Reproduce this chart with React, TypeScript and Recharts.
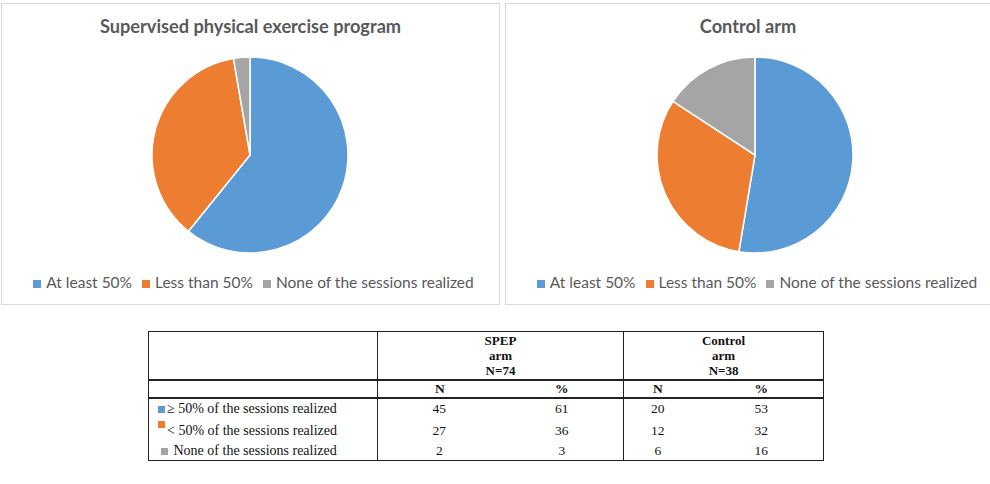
import React from 'react';
import { PieChart, Pie, Cell, Legend } from 'recharts';

const categories = ['At least 50%', 'Less than 50%', 'None of the sessions realized'];
const spepCounts = [45, 27, 2];
const controlCounts = [20, 12, 6];
const spepPct = [61, 36, 3];
const controlPct = [53, 32, 16];
const rowLabels = ['≥ 50% of the sessions realized', '< 50% of the sessions realized', 'None of the sessions realized'];
const colors = ['#5b9bd5', '#ed7d31', '#a5a5a5'];

const spepData = categories.map((name, i) => ({ name, value: spepCounts[i] }));
const controlData = categories.map((name, i) => ({ name, value: controlCounts[i] }));

const textGray = '#595959';

const PiePanel: React.FC<{ title: string; data: { name: string; value: number }[]; left: number; width: number; cx: number; legendLeft: number }> = ({ title, data, left, width, cx, legendLeft }) => (
  <div style={{ position: 'absolute', left, top: 3, width, height: 302, border: '1px solid #d9d9d9', boxSizing: 'border-box', background: '#fff' }}>
    <div style={{ position: 'absolute', top: 11, left: 0, width: '100%', textAlign: 'center', fontFamily: 'Lato', fontWeight: 700, fontSize: 18.2, color: textGray }}>
      {title}
    </div>
    <PieChart width={width - 2} height={300}>
      <Pie
        data={data}
        dataKey="value"
        nameKey="name"
        cx={cx}
        cy={146}
        outerRadius={98}
        startAngle={90}
        endAngle={-270}
        stroke="#fff"
        strokeWidth={1.5}
        isAnimationActive={false}
      >
        {data.map((d, i) => <Cell key={d.name} fill={colors[i]} />)}
      </Pie>
      <Legend
        iconType="square"
        iconSize={8}
        verticalAlign="bottom"
        wrapperStyle={{ bottom: 13, left: legendLeft, fontFamily: 'Lato', fontSize: 15.5 }}
        formatter={(value: string) => <span style={{ color: textGray, marginLeft: 1 }}>{value}</span>}
      />
    </PieChart>
  </div>
);

const bd = '1px solid #222';
const thick = '2px solid #222';

const Sq: React.FC<{ c: string; top?: number }> = ({ c, top = 0 }) => (
  <span style={{ display: 'inline-block', width: 7, height: 7, background: c, marginRight: 2, position: 'relative', top }} />
);

const App: React.FC = () => {
  const cell: React.CSSProperties = { padding: 0, textAlign: 'center' };
  return (
    <div style={{ position: 'absolute', left: 0, top: 0, width: 990, height: 484, background: '#fff', overflow: 'hidden' }}>
      <PiePanel title="Supervised physical exercise program" data={spepData} left={1} width={499} cx={243} legendLeft={13} />
      <PiePanel title="Control arm" data={controlData} left={505} width={486} cx={244} legendLeft={19} />
      <table
        style={{
          position: 'absolute', left: 148, top: 331, width: 675, borderCollapse: 'collapse', tableLayout: 'fixed',
          fontFamily: '"Liberation Serif", "Times New Roman", serif', fontSize: 13.5, color: '#111', border: bd,
        }}
      >
        <colgroup>
          <col style={{ width: 229 }} />
          <col style={{ width: 123 }} />
          <col style={{ width: 123 }} />
          <col style={{ width: 68 }} />
          <col style={{ width: 132 }} />
        </colgroup>
        <tbody>
          <tr style={{ height: 48 }}>
            <td style={{ ...cell, borderRight: bd, borderBottom: thick }} />
            <td colSpan={2} style={{ ...cell, borderRight: bd, borderBottom: thick, fontWeight: 700, lineHeight: '15px', fontSize: 13 }}>
              SPEP<br />arm<br />N=74
            </td>
            <td colSpan={2} style={{ ...cell, borderBottom: thick, fontWeight: 700, lineHeight: '15px', fontSize: 13 }}>
              Control<br />arm<br />N=38
            </td>
          </tr>
          <tr style={{ height: 16 }}>
            <td style={{ ...cell, borderRight: bd, borderBottom: thick }} />
            <td style={{ ...cell, borderBottom: thick, fontWeight: 700, paddingLeft: 1 }}>N</td>
            <td style={{ ...cell, borderRight: bd, borderBottom: thick, fontWeight: 700 }}>%</td>
            <td style={{ ...cell, borderBottom: thick, fontWeight: 700 }}>N</td>
            <td style={{ ...cell, borderBottom: thick, fontWeight: 700, paddingLeft: 8 }}>%</td>
          </tr>
          {rowLabels.map((label, i) => (
            <tr key={label} style={{ height: i === 2 ? 19 : 22 }}>
              <td style={{ ...cell, textAlign: 'left', borderRight: bd, paddingLeft: i === 2 ? 12 : 9, fontSize: 14, whiteSpace: 'nowrap' }}>
                {i === 1 ? <Sq c={colors[i]} top={-7} /> : <Sq c={colors[i]} />}
                {i === 2 ? ' ' : ''}
                {label}
              </td>
              <td style={cell}>{spepCounts[i]}</td>
              <td style={{ ...cell, borderRight: bd }}>{spepPct[i]}</td>
              <td style={cell}>{controlCounts[i]}</td>
              <td style={{ ...cell, paddingLeft: 8 }}>{controlPct[i]}</td>
            </tr>
          ))}
        </tbody>
      </table>
    </div>
  );
};

export default App;
